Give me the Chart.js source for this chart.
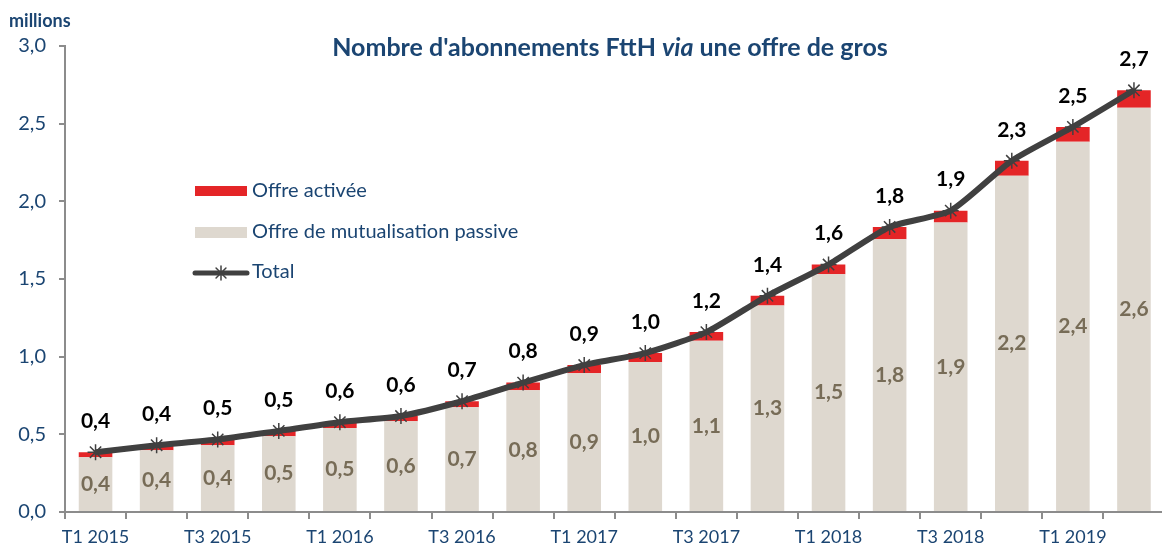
<!DOCTYPE html>
<html lang="fr">
<head>
<meta charset="utf-8">
<title>Abonnements FttH via une offre de gros</title>
<script src="https://cdn.jsdelivr.net/npm/chart.js@4.4.1/dist/chart.umd.min.js"></script>
<style>
  html, body { margin: 0; padding: 0; background: #fff; overflow: hidden; }
  #wrap { width: 1174px; height: 548px; }
</style>
</head>
<body>
<div id="wrap"><canvas id="ftth" width="1174" height="548"></canvas></div>
<script>
// quarterly wholesale FttH subscriptions, in millions
var quarters = [
    "T1 2015", "T2 2015", "T3 2015", "T4 2015",
    "T1 2016", "T2 2016", "T3 2016", "T4 2016",
    "T1 2017", "T2 2017", "T3 2017", "T4 2017",
    "T1 2018", "T2 2018", "T3 2018", "T4 2018",
    "T1 2019", "T2 2019"
];
var passive = [0.353, 0.398, 0.430, 0.488, 0.541, 0.584, 0.674, 0.784, 0.893,
               0.966, 1.102, 1.330, 1.531, 1.756, 1.863, 2.164, 2.383, 2.603];
var activated = [0.032, 0.032, 0.037, 0.034, 0.037, 0.034, 0.039, 0.049, 0.053,
                 0.057, 0.056, 0.062, 0.062, 0.079, 0.077, 0.097, 0.096, 0.112];
var totals = passive.map(function (v, i) { return v + activated[i]; });

var BLUE = "#1b4572";
var RED = "#e42527";
var BEIGE = "#ded8cf";
var LINE = "#404040";
var FONT = "Lato, 'Open Sans', sans-serif";

function fr(v) {
    return v.toFixed(1).replace(".", ",");
}

// value labels: passive inside the beige part, totals above the line
var valueLabels = {
    id: "valueLabels",
    afterDatasetsDraw: function (chart) {
        var ctx = chart.ctx;
        ctx.save();
        ctx.textAlign = "center";
        ctx.textBaseline = "middle";
        ctx.font = "bold 21px " + FONT;
        ctx.fillStyle = "#776c57";
        chart.getDatasetMeta(0).data.forEach(function (bar, i) {
            ctx.fillText(fr(passive[i]), bar.x, (bar.y + bar.base) / 2);
        });
        ctx.fillStyle = "#000";
        chart.getDatasetMeta(2).data.forEach(function (pt, i) {
            ctx.fillText(fr(totals[i]), pt.x, pt.y - 31);
        });
        ctx.restore();
    }
};

// title (with italic "via"), unit label and the legend block
var decorations = {
    id: "decorations",
    afterDraw: function (chart) {
        var ctx = chart.ctx;
        ctx.save();
        ctx.fillStyle = BLUE;
        ctx.textBaseline = "middle";

        ctx.font = "bold 18px " + FONT;
        ctx.textAlign = "left";
        ctx.fillText("millions", 9, 21);

        var parts = [
            ["bold 25px " + FONT, "Nombre d'abonnements FttH "],
            ["italic bold 25px " + FONT, "via"],
            ["bold 25px " + FONT, " une offre de gros"]
        ];
        var w = 0;
        parts.forEach(function (p) { ctx.font = p[0]; w += ctx.measureText(p[1]).width; });
        var x = 610 - w / 2;
        parts.forEach(function (p) {
            ctx.font = p[0];
            ctx.fillText(p[1], x, 48);
            x += ctx.measureText(p[1]).width;
        });

        ctx.fillStyle = RED;
        ctx.fillRect(195, 186, 52, 10);
        ctx.fillStyle = BEIGE;
        ctx.fillRect(195, 227, 52, 11);
        ctx.strokeStyle = LINE;
        ctx.lineWidth = 5;
        ctx.lineCap = "round";
        ctx.beginPath();
        ctx.moveTo(195, 273);
        ctx.lineTo(247, 273);
        ctx.stroke();
        ctx.lineWidth = 1.5;
        Chart.helpers.drawPoint(ctx, { pointStyle: "star", radius: 7, rotation: 0, borderWidth: 1.5 }, 221, 273);
        ctx.font = "20px " + FONT;
        ctx.fillStyle = BLUE;
        ctx.fillText("Offre activée", 252, 191);
        ctx.fillText("Offre de mutualisation passive", 252, 232);
        ctx.fillText("Total", 252, 272);
        ctx.restore();
    }
};

new Chart(document.getElementById("ftth").getContext("2d"), {
    type: "bar",
    data: {
        labels: quarters,
        datasets: [
            {
                label: "Offre de mutualisation passive",
                data: passive,
                backgroundColor: BEIGE,
                stack: "bars",
                order: 1,
                barPercentage: 0.55,
                categoryPercentage: 1
            },
            {
                label: "Offre activée",
                data: activated,
                backgroundColor: RED,
                stack: "bars",
                order: 1,
                barPercentage: 0.55,
                categoryPercentage: 1
            },
            {
                type: "line",
                label: "Total",
                data: totals,
                stack: "total",
                order: 0,
                borderColor: LINE,
                borderWidth: 6,
                tension: 0.2,
                pointStyle: "star",
                pointRadius: 8,
                pointBorderColor: LINE,
                pointBorderWidth: 1.5,
                pointBackgroundColor: LINE
            }
        ]
    },
    options: {
        responsive: false,
        animation: false,
        layout: { padding: { top: 46, right: 1, left: 0, bottom: 0 } },
        plugins: {
            legend: { display: false },
            tooltip: { enabled: false }
        },
        scales: {
            x: {
                stacked: true,
                afterFit: function (scale) { scale.height = 36; },
                border: { color: "#8c8c8c", width: 2 },
                grid: {
                    offset: true,
                    drawOnChartArea: false,
                    tickLength: 7,
                    color: "#8c8c8c",
                    lineWidth: 2
                },
                ticks: {
                    autoSkip: false,
                    maxRotation: 0,
                    padding: 7,
                    color: BLUE,
                    font: { family: FONT, size: 18 },
                    callback: function (v, i) { return i % 2 === 0 ? quarters[i] : ""; }
                }
            },
            y: {
                stacked: true,
                min: 0,
                max: 3,
                afterFit: function (scale) { scale.width = 65; },
                border: { color: "#8c8c8c", width: 2 },
                grid: {
                    drawOnChartArea: false,
                    tickLength: 6,
                    color: "#8c8c8c",
                    lineWidth: 2
                },
                ticks: {
                    stepSize: 0.5,
                    padding: 13,
                    color: BLUE,
                    font: { family: FONT, size: 20 },
                    callback: function (v) { return fr(v); }
                }
            }
        }
    },
    plugins: [valueLabels, decorations]
});
</script>
</body>
</html>
